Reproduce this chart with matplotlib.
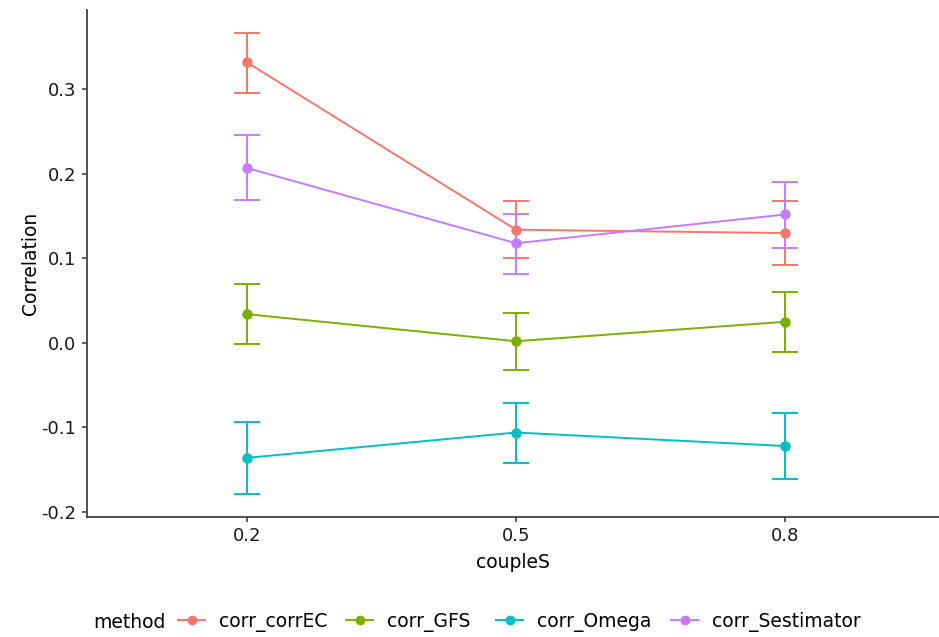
import matplotlib
matplotlib.use("Agg")
import matplotlib.pyplot as plt
from matplotlib.lines import Line2D
import numpy as np

plt.rcParams['font.family'] = ['DejaVu Sans']

couple = ["0.2", "0.5", "0.8"]
methods = ["corr_corrEC", "corr_GFS", "corr_Omega", "corr_Sestimator"]
colors = ["#F8766D", "#7CAE00", "#00BFC4", "#C77CFF"]

mean_corrEC = [0.332, 0.134, 0.130]
low_corrEC = [0.296, 0.100, 0.092]
high_corrEC = [0.367, 0.168, 0.168]

mean_GFS = [0.034, 0.002, 0.025]
low_GFS = [-0.001, -0.032, -0.011]
high_GFS = [0.070, 0.035, 0.060]

mean_Omega = [-0.136, -0.106, -0.122]
low_Omega = [-0.179, -0.142, -0.161]
high_Omega = [-0.094, -0.071, -0.083]

mean_Sest = [0.207, 0.118, 0.152]
low_Sest = [0.169, 0.082, 0.112]
high_Sest = [0.246, 0.152, 0.191]

means = [mean_corrEC, mean_GFS, mean_Omega, mean_Sest]
lows = [low_corrEC, low_GFS, low_Omega, low_Sest]
highs = [high_corrEC, high_GFS, high_Omega, high_Sest]

W, H = 939, 637
fig = plt.figure(figsize=(W / 100, H / 100), dpi=100)
ax = fig.add_axes([86.7 / W, (H - 517) / H, (939 - 86.7) / W, (517 - 10) / H])

x = np.arange(1, len(couple) + 1)
for m, lo, hi, c in zip(means, lows, highs, colors):
    m = np.array(m); lo = np.array(lo); hi = np.array(hi)
    ax.errorbar(x, m, yerr=[m - lo, hi - m], color=c, lw=1.4, capsize=9.5,
                capthick=1.4, elinewidth=1.4, marker='o', markersize=6.5,
                zorder=3)

ax.set_xlim(0.404, 1 + (939 - 247) / 269)
ax.set_ylim(-0.206, 0.394)
ax.set_xticks(x)
ax.set_xticklabels(couple)
ax.set_yticks([-0.2, -0.1, 0.0, 0.1, 0.2, 0.3])
ax.set_yticklabels(["-0.2", "-0.1", "0.0", "0.1", "0.2", "0.3"])

for s in ["top", "right"]:
    ax.spines[s].set_visible(False)
for s in ["left", "bottom"]:
    ax.spines[s].set_color("#333333")
    ax.spines[s].set_linewidth(1.2)
ax.tick_params(axis='both', colors="#333333", length=3.5, width=1.1,
               labelsize=13, labelcolor="#1a1a1a", pad=4)

ax.set_xlabel("coupleS", fontsize=13.5, color="black", labelpad=5.5)
ax.set_ylabel("Correlation", fontsize=13.5, color="black", labelpad=1)

# legend: title text plus one entry per method at its key position
fig.text(93 / W, 1 - 622 / H, "method", fontsize=13.5, va='center', ha='left')
key_left_px = [178, 346, 496, 671]
for name, c, kx in zip(methods, colors, key_left_px):
    h = Line2D([0], [0], color=c, lw=1.4, marker='o', markersize=6)
    fig.legend([h], [name], loc='center left', bbox_to_anchor=(kx / W, 1 - 622 / H),
               frameon=False, fontsize=13.5, handlelength=1.45, handletextpad=0.75,
               borderaxespad=0, borderpad=0)

fig.savefig("out.png", dpi=100, facecolor='white')
